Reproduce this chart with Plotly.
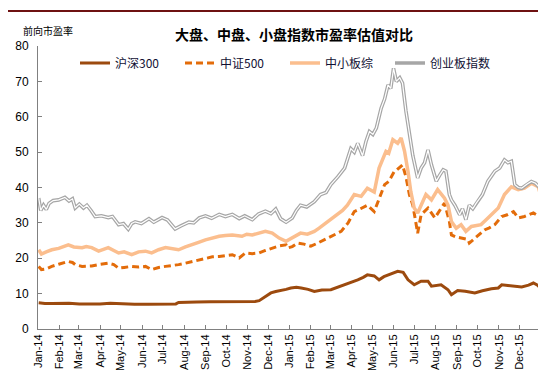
import pandas as pd
import plotly.graph_objects as go

BASE = pd.Timestamp("2014-01-01")

title_text = "大盘、中盘、小盘指数市盈率估值对比"
ylabel_text = "前向市盈率"

tick_dates = pd.date_range("2014-01-01", "2015-12-01", freq="MS")
tick_labels = [d.strftime("%b-%y") for d in tick_dates]

# 沪深300 (day offset from 2014-01-01, value)
hs300_day = [1, 10, 20, 31, 45, 60, 75, 90, 105, 120, 140, 160, 180, 200, 204, 215, 230, 250, 270,
             282, 301, 315, 321, 330, 338, 345, 352, 360, 367, 375, 382, 392, 401, 412, 425, 432,
             440, 452, 464, 472, 478, 488, 495, 502, 508, 515, 522, 530, 537, 546, 556, 566, 571,
             585, 595, 600, 609, 620, 634, 645, 658, 668, 673, 682, 692, 702, 712, 719, 725, 729]
hs300_val = [7.4, 7.2, 7.2, 7.3, 7.3, 7.1, 7.0, 7.1, 7.3, 7.1, 7.0, 7.0, 7.1, 7.1, 7.5, 7.6, 7.6,
             7.7, 7.7, 7.7, 7.7, 7.8, 8.0, 9.3, 10.2, 10.6, 10.8, 11.2, 11.6, 11.8, 11.6, 11.2,
             10.6, 11.0, 11.1, 11.6, 12.1, 13.0, 13.9, 14.6, 15.3, 15.0, 13.9, 14.8, 15.3, 15.8,
             16.3, 16.0, 13.9, 12.5, 13.5, 13.5, 12.1, 12.5, 11.1, 9.7, 10.9, 10.7, 10.2, 10.8,
             11.4, 11.6, 12.5, 12.3, 12.1, 11.9, 12.4, 13.0, 12.4, 11.6]

# 中证500
zz500_day = [1, 5, 12, 20, 30, 44, 50, 54, 64, 78, 88, 102, 110, 117, 125, 136, 146, 156, 165, 175,
             185, 195, 204, 214, 224, 233, 243, 253, 263, 272, 282, 292, 301, 311, 321, 330, 340,
             350, 360, 362, 369, 377, 386, 396, 405, 415, 425, 440, 450, 459, 468, 478, 488, 495,
             503, 509, 517, 521, 529, 534, 539, 544, 549, 551, 556, 566, 576, 585, 590, 597, 600,
             607, 614, 624, 626, 634, 641, 648, 655, 663, 673, 681, 690, 697, 706, 719, 726, 729, 730]
zz500_val = [17.7, 16.8, 17.0, 17.7, 18.3, 19.1, 18.8, 18.2, 17.7, 17.8, 18.2, 18.6, 18.2, 17.2,
             17.4, 17.7, 17.5, 17.7, 16.8, 17.4, 17.7, 17.9, 18.2, 18.6, 19.1, 19.6, 20.1, 20.4,
             20.5, 20.8, 21.0, 20.1, 21.5, 21.3, 21.5, 22.2, 22.9, 23.5, 23.8, 22.9, 23.3, 24.3,
             24.0, 23.4, 24.2, 25.2, 26.2, 27.6, 30.0, 33.2, 34.0, 35.0, 33.2, 37.0, 40.8, 41.7,
             44.5, 45.0, 46.4, 43.0, 38.0, 35.0, 30.0, 27.1, 32.3, 34.2, 31.4, 34.2, 35.6, 30.4,
             26.6, 26.0, 25.7, 25.3, 24.3, 25.7, 27.0, 28.0, 28.6, 29.5, 31.8, 32.3, 33.2, 31.4,
             31.8, 32.8, 32.0, 31.4, 29.0]

# 中小板综
zxb_day = [1, 5, 12, 20, 30, 44, 52, 64, 70, 78, 88, 95, 102, 110, 117, 125, 136, 146, 156, 165,
           175, 185, 195, 204, 214, 224, 233, 243, 253, 263, 272, 282, 296, 303, 311, 320, 330,
           340, 345, 350, 360, 369, 375, 381, 391, 401, 408, 415, 425, 435, 442, 449, 459, 469,
           478, 488, 495, 505, 509, 515, 519, 522, 527, 532, 537, 541, 546, 551, 556, 563, 571,
           580, 590, 595, 600, 607, 614, 621, 629, 636, 643, 650, 658, 668, 677, 687, 697, 706,
           716, 726, 730]
zxb_val = [22.4, 21.2, 21.8, 22.4, 22.8, 23.8, 23.2, 23.0, 23.3, 23.0, 22.0, 22.6, 23.0, 22.2,
           21.5, 21.8, 21.0, 21.8, 22.0, 21.5, 22.4, 23.0, 22.6, 22.4, 23.2, 23.8, 24.5, 25.2,
           25.8, 26.2, 26.4, 26.6, 26.2, 26.8, 26.6, 27.1, 27.6, 27.1, 26.4, 25.7, 24.8, 25.7,
           26.5, 27.1, 26.8, 27.6, 28.5, 29.5, 31.0, 32.3, 33.5, 35.0, 38.0, 37.5, 39.8, 38.7,
           45.5, 50.2, 49.7, 53.5, 53.0, 52.5, 54.0, 50.2, 44.5, 38.9, 34.2, 32.8, 35.0, 38.0,
           36.5, 39.4, 37.0, 35.0, 30.4, 28.5, 29.5, 27.6, 29.0, 29.2, 29.5, 30.8, 32.3, 34.2,
           38.0, 40.2, 39.4, 39.8, 41.2, 40.2, 37.5]

# 创业板指数
cyb_day = [1, 4, 8, 12, 16, 22, 30, 39, 45, 50, 54, 60, 66, 71, 77, 83, 92, 102, 108, 117, 124,
           131, 136, 141, 150, 161, 168, 180, 188, 199, 208, 219, 226, 234, 243, 252, 263, 272,
           282, 292, 300, 311, 320, 330, 338, 345, 352, 360, 369, 375, 381, 390, 401, 410, 418,
           425, 435, 445, 454, 459, 464, 471, 476, 481, 486, 491, 498, 503, 508, 512, 516, 520,
           525, 529, 534, 539, 544, 551, 556, 561, 566, 571, 578, 583, 588, 592, 597, 600, 605,
           612, 616, 621, 626, 631, 636, 645, 653, 663, 670, 677, 682, 687, 692, 697, 702, 710,
           716, 722, 729, 730]
cyb_val = [37.0, 33.5, 35.0, 33.8, 35.5, 36.3, 36.5, 37.2, 36.2, 36.8, 34.2, 35.3, 34.2, 35.0,
           33.5, 31.8, 32.0, 31.5, 31.8, 29.5, 29.8, 28.2, 29.8, 30.3, 29.8, 31.2, 30.2, 31.5,
           30.8, 28.3, 29.2, 30.2, 30.0, 31.4, 32.0, 31.3, 32.4, 31.8, 32.4, 31.2, 32.0, 30.9,
           32.5, 33.3, 32.6, 33.9, 31.2, 30.2, 31.4, 33.5, 35.0, 34.5, 36.0, 38.0, 38.6, 40.8,
           43.0, 45.5, 51.0, 50.0, 52.5, 49.0, 53.0, 55.8, 55.0, 56.8, 62.4, 65.0, 69.0, 68.0,
           73.7, 70.0, 71.0, 69.5, 61.6, 54.9, 49.0, 42.7, 45.5, 47.0, 50.6, 46.4, 41.8, 43.5,
           45.0, 44.6, 38.0, 36.5, 35.0, 32.3, 34.0, 30.9, 35.0, 34.0, 35.6, 38.0, 41.8, 44.6,
           45.5, 47.8, 47.0, 47.4, 40.8, 40.0, 39.8, 41.0, 41.7, 41.2, 39.8, 37.0]


def to_dates(days):
    return [BASE + pd.Timedelta(days=d) for d in days]


fig = go.Figure()

fig.add_trace(go.Scatter(x=to_dates(hs300_day), y=hs300_val, mode="lines", name="沪深300",
                         line=dict(color="#9C4A0E", width=3)))
fig.add_trace(go.Scatter(x=to_dates(zz500_day), y=zz500_val, mode="lines", name="中证500",
                         line=dict(color="#E36C0A", width=3, dash="7px,4px")))
fig.add_trace(go.Scatter(x=to_dates(zxb_day), y=zxb_val, mode="lines", name="中小板综",
                         line=dict(color="#FBBE8E", width=3.5)))
fig.add_trace(go.Scatter(x=to_dates(cyb_day), y=cyb_val, mode="lines", name="创业板指数",
                         line=dict(color="#A6A6A6", width=3.6)))
fig.add_trace(go.Scatter(x=to_dates(cyb_day), y=cyb_val, mode="lines", showlegend=False,
                         hoverinfo="skip", line=dict(color="#FFFFFF", width=1.2)))

W, H = 546, 376
L, R, T, B = 30, 13, 38, 55
pw, ph = W - L - R, H - T - B


def px_x(p):
    return (p - L) / pw


def px_y(p):
    return (H - B - p) / ph


fig.update_layout(
    width=W, height=H,
    margin=dict(l=L, r=R, t=T, b=B),
    paper_bgcolor="white", plot_bgcolor="white",
    font=dict(family="Liberation Sans, Arial, sans-serif", color="#000000"),
    showlegend=True,
    legend=dict(orientation="h", x=px_x(67), xanchor="left", y=px_y(55), yanchor="middle",
                font=dict(family="Noto Sans CJK SC, Liberation Sans", size=12, color="#111133"),
                bgcolor="rgba(0,0,0,0)", itemwidth=30, tracegroupgap=0,
                entrywidth=60, entrywidthmode="pixels"),
    xaxis=dict(type="date", range=["2014-01-01", "2016-01-01"], tickvals=list(tick_dates),
               ticktext=tick_labels, tickangle=-90, ticks="inside", ticklen=4,
               tickcolor="#808080", showline=True, linecolor="#808080", linewidth=1,
               showgrid=False, zeroline=False, automargin=False,
               tickfont=dict(family="Liberation Sans, Arial", size=11, color="#000000")),
    yaxis=dict(range=[0, 80], dtick=10, ticks="inside", ticklen=4, tickcolor="#808080",
               showline=True, linecolor="#808080", linewidth=1, showgrid=False, zeroline=False,
               automargin=False, ticklabelstandoff=6,
               tickfont=dict(family="Liberation Sans, Arial", size=12, color="#000000")),
    shapes=[
        dict(type="line", xref="paper", yref="paper", x0=px_x(0), x1=px_x(W), y0=px_y(3), y1=px_y(3),
             line=dict(color="#6E1111", width=2)),
        dict(type="line", xref="paper", yref="paper", x0=px_x(0), x1=px_x(W), y0=px_y(373), y1=px_y(373),
             line=dict(color="#6E1111", width=2)),
    ],
    annotations=[
        dict(text="<b>" + title_text + "</b>", xref="paper", yref="paper", x=px_x(286), y=px_y(26),
             xanchor="center", yanchor="middle", showarrow=False,
             font=dict(family="Noto Sans CJK SC", size=14, color="#000000")),
        dict(text=ylabel_text, xref="paper", yref="paper", x=px_x(13), y=px_y(22),
             xanchor="left", yanchor="middle", showarrow=False,
             font=dict(family="Noto Sans CJK SC", size=10, color="#000000")),
    ],
)

fig.write_html("out.html")
